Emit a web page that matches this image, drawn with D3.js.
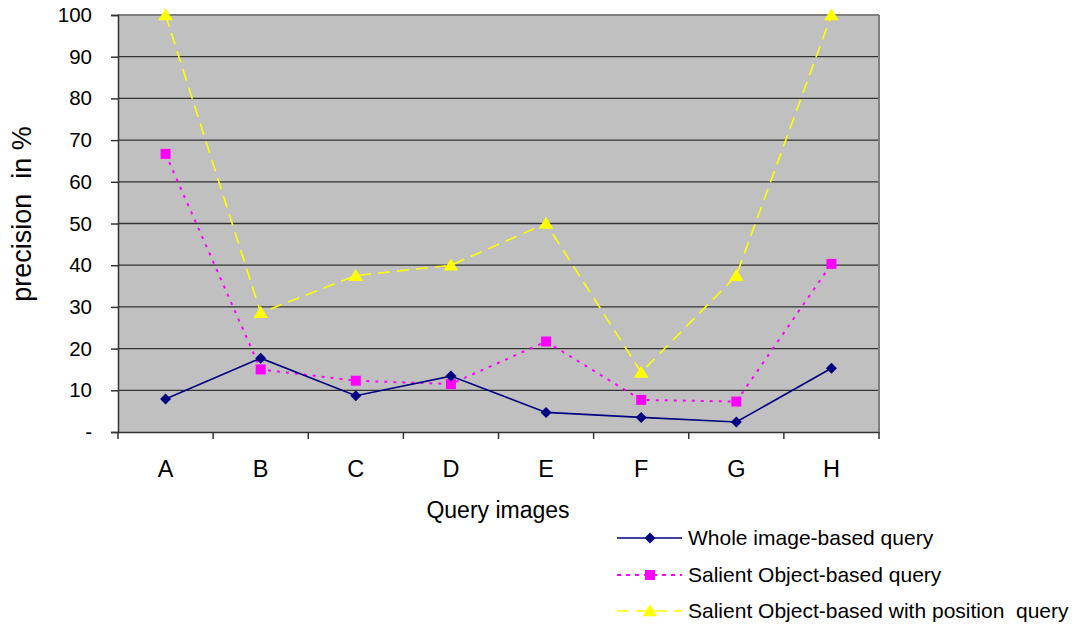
<!DOCTYPE html>
<html><head><meta charset="utf-8">
<script src="https://cdn.jsdelivr.net/npm/d3@7"></script>
<style>body{margin:0;background:#fff}svg{display:block;font-family:"Liberation Sans",Arial,sans-serif}</style>
</head><body><svg id="c" width="1082" height="628"></svg>
<script>
const categories = ["A","B","C","D","E","F","G","H"];
const whole = [7.9, 17.7, 8.7, 13.4, 4.7, 3.5, 2.4, 15.3];
const salient = [66.7, 15.0, 12.3, 11.5, 21.7, 7.7, 7.3, 40.3];
const salientPos = [100, 28.6, 37.5, 40.0, 50.0, 14.3, 37.5, 100];
const yTicks = [0,10,20,30,40,50,60,70,80,90,100];
const seriesNames = ["Whole image-based query","Salient Object-based query","Salient Object-based with position  query"];

const svg = d3.select("#c");
const FF = "Liberation Sans, Arial, sans-serif";
const L=118, R=879, T=15, B=432;
const x = d3.scaleBand().domain(categories).range([L,R]);
const y = d3.scaleLinear().domain([0,100]).range([B,T]);

svg.append("rect").attr("x",L).attr("y",T).attr("width",R-L).attr("height",B-T).attr("fill","#c0c0c0");
svg.append("g").selectAll("line").data(yTicks.filter(d=>d>0&&d<100)).join("line")
  .attr("x1",L).attr("x2",R).attr("y1",d=>y(d)).attr("y2",d=>y(d)).attr("stroke","#333").attr("stroke-width",1.3);
svg.append("line").attr("x1",L).attr("x2",R).attr("y1",T).attr("y2",T).attr("stroke","#808080").attr("stroke-width",2);
svg.append("line").attr("x1",R).attr("x2",R).attr("y1",T).attr("y2",B).attr("stroke","#808080").attr("stroke-width",2);

const ya = d3.axisLeft(y).tickValues(yTicks).tickSize(7).tickPadding(19).tickFormat(d=>d===0?"-":d);
const gy = svg.append("g").attr("transform",`translate(${L},0)`).call(ya).attr("font-size",20.5).attr("font-family",FF);
gy.select(".domain").attr("stroke","#333").attr("stroke-width",1.5);
gy.selectAll(".tick line").attr("stroke","#333").attr("stroke-width",1.5);
gy.selectAll(".tick text").attr("fill","#000");

const xa = d3.axisBottom(x).tickSize(0).tickPadding(28);
const gx = svg.append("g").attr("transform",`translate(0,${B})`).call(xa).attr("font-size",23.5).attr("font-family",FF);
gx.select(".domain").attr("stroke","#333").attr("stroke-width",1.5);
gx.selectAll(".tick text").attr("fill","#000");
const bounds = categories.map(c=>x(c)).concat([R]);
svg.append("g").selectAll("line").data(bounds).join("line")
  .attr("x1",d=>d).attr("x2",d=>d).attr("y1",B).attr("y2",B+7).attr("stroke","#333").attr("stroke-width",1.5);

svg.append("text").attr("x",498).attr("y",518).attr("text-anchor","middle").attr("font-size",23).text("Query images");
svg.append("text").attr("transform",`translate(31,214) rotate(-90)`).attr("text-anchor","middle").attr("font-size",27).attr("xml:space","preserve").text("precision  in %");

const diamond = {draw(ctx,size){const r=Math.sqrt(size)/2*1.1;ctx.moveTo(0,-r);ctx.lineTo(r,0);ctx.lineTo(0,r);ctx.lineTo(-r,0);ctx.closePath();}};
const tri = {draw(ctx,size){const r=Math.sqrt(size)/2;ctx.moveTo(0,-r);ctx.lineTo(r*1.1,r*0.8);ctx.lineTo(-r*1.1,r*0.8);ctx.closePath();}};

const cx = c=>x(c)+x.bandwidth()/2;
const series = [
  {vals:whole, color:"#000080", dash:null, w:1.6, sym:diamond, size:100},
  {vals:salient, color:"#ff00ff", dash:"3,6", w:2, sym:d3.symbolSquare, size:100},
  {vals:salientPos, color:"#ffff00", dash:"12,7", w:1.6, sym:tri, size:180}
];
const line = d3.line().x((d,i)=>cx(categories[i])).y(d=>y(d));
[2,1,0].forEach(k=>{
  const s=series[k];
  svg.append("path").datum(s.vals).attr("d",line).attr("fill","none").attr("stroke",s.color)
    .attr("stroke-width",s.w).attr("stroke-dasharray",s.dash);
  svg.append("g").selectAll("path").data(s.vals).join("path")
    .attr("transform",(d,i)=>`translate(${cx(categories[i])},${y(d)})`)
    .attr("d",d3.symbol().type(s.sym).size(s.size)).attr("fill",s.color);
});

const ly=[538,575,611];
series.forEach((s,i)=>{
  const g=svg.append("g");
  g.append("line").attr("x1",617).attr("x2",682).attr("y1",ly[i]).attr("y2",ly[i]).attr("stroke",s.color).attr("stroke-width",s.w).attr("stroke-dasharray",i===1?"4,5":s.dash);
  g.append("path").attr("transform",`translate(650,${ly[i]})`).attr("d",d3.symbol().type(s.sym).size(s.size)).attr("fill",s.color);
  g.append("text").attr("x",688).attr("y",ly[i]+7).attr("font-size",21).attr("xml:space","preserve").text(seriesNames[i]);
});
</script></body></html>
